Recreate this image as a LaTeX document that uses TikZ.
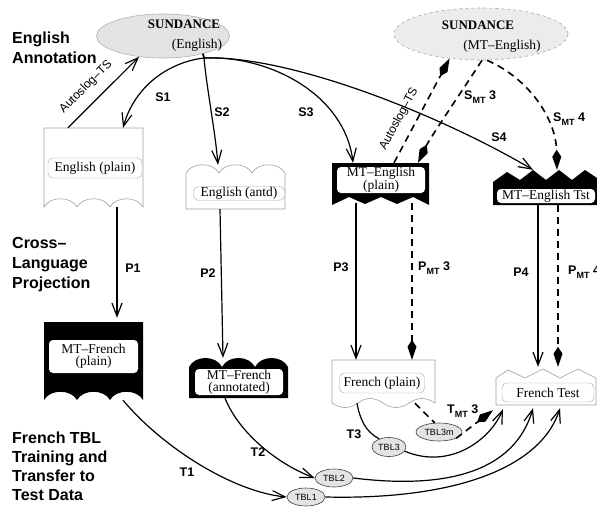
\documentclass[tikz,border=0pt]{standalone}
\usepackage{fontspec}
\setmainfont{Liberation Serif}
\setsansfont{Liberation Sans}
\usetikzlibrary{arrows.meta,shapes.geometric}
\newcommand\lsub[1]{\raisebox{-3.5pt}{\fontsize{9}{10}\selectfont #1}}
\begin{document}
\begin{tikzpicture}[x=1pt,y=-1pt,
  conn/.style={line width=1.2pt,-{Straight Barb[length=13pt,width=10pt,line width=1.2pt]}},
  plainconn/.style={line width=1.2pt},
  dconn/.style={line width=1.6pt,dash pattern=on 7pt off 5pt,-{Kite[length=20pt,width=9pt,inset=7pt]}},
  dplain/.style={line width=1.6pt,dash pattern=on 7pt off 5pt},
  docline/.style={draw=gray!75,line width=0.6pt},
  blackdoc/.style={fill=black},
  area/.style={draw=none,inner sep=0pt,rectangle},
  tl/.style={draw=gray!70,fill=white,rounded corners=5pt,inner sep=0pt,align=center,font=\fontsize{13.5}{12}\selectfont},
  wl/.style={fill=white,rounded corners=4pt,inner sep=0pt,align=center,font=\fontsize{13.5}{12}\selectfont},
  head/.style={font=\sffamily\bfseries\fontsize{16}{20}\selectfont,align=left,anchor=base west,inner sep=0pt},
  lab/.style={font=\sffamily\bfseries\fontsize{12.5}{14}\selectfont,inner sep=0pt},
  rlab/.style={font=\sffamily\fontsize{12}{14}\selectfont,inner sep=0pt},
  stext/.style={font=\fontsize{13.5}{15}\selectfont,inner sep=0pt},
  tbl/.style={ellipse,draw=black!75,fill=gray!22,line width=0.6pt,inner sep=0pt,font=\sffamily\fontsize{9}{10}\selectfont}
]
\useasboundingbox (0,0) rectangle (597,506);
\clip (0,0) rectangle (597,506);

% headings
\node[head] (h1) at (12,63) {English\\Annotation};
\node[head] (h2) at (12,288) {Cross--\\Language\\Projection};
\node[head,font=\sffamily\bfseries\fontsize{16}{19}\selectfont] (h3) at (12,500) {French TBL\\Training and\\Transfer to\\Test Data};

% SUNDANCE ellipses
\node[ellipse,draw=gray!60,fill=gray!22,line width=0.6pt,minimum width=133pt,minimum height=44pt,inner sep=0pt] (se) at (163,36) {};
\node[stext,font=\bfseries\fontsize{13}{15}\selectfont] (se1) at (184,24) {SUNDANCE};
\node[stext] (se2) at (197,45) {(English)};
\node[ellipse,draw=gray!70,fill=gray!15,dashed,line width=0.6pt,minimum width=174pt,minimum height=52pt,inner sep=0pt] (sm) at (481,34) {};
\node[stext,font=\bfseries\fontsize{13}{15}\selectfont] (sm1) at (478,25) {SUNDANCE};
\node[stext] (sm2) at (502,46) {(MT--English)};

% English (plain)
\path[docline,fill=white] (44,128) -- (143,128) -- (143,207)
  .. controls (137,196) and (116,196) .. (110,207)
  .. controls (104,196) and (83,196) .. (77,207)
  .. controls (71,196) and (50,196) .. (44,207) -- cycle;
\node[area,minimum width=99pt,minimum height=79pt] (ep) at (93.5,167.5) {};
\node[tl,minimum width=94pt,minimum height=20pt] (epl) at (95,168) {English (plain)};

% English (antd)
\path[docline,fill=white] (186,209) -- (186,173)
  .. controls (192,162) and (213,162) .. (219,173)
  .. controls (225,162) and (246,162) .. (252,173)
  .. controls (258,162) and (279,162) .. (285,173) -- (285,209) -- cycle;
\node[area,minimum width=99pt,minimum height=44pt] (ea) at (235.5,187) {};
\node[tl,minimum width=91pt,minimum height=14pt] (eal) at (239,193.5) {English (antd)};

% MT-English (plain)
\path[blackdoc] (332,163) -- (429,163) -- (429,205) -- (413,197) -- (397,204) -- (381,197) -- (365,204) -- (349,197) -- (332,205) -- cycle;
\node[area,minimum width=97pt,minimum height=40pt] (mep) at (380.5,183) {};
\node[wl,minimum width=88pt,minimum height=26pt] (mepl) at (381,180) {MT--English\\(plain)};

% MT-English Tst
\path[blackdoc] (493,182) -- (507,172) -- (520,180) -- (533,170) -- (546,180) -- (559,170) -- (572,180) -- (585,170) -- (597,178) -- (597,205) -- (493,205) -- cycle;
\node[area,minimum width=104pt,minimum height=35pt] (met) at (545,187.5) {};
\node[wl,minimum width=98pt,minimum height=14pt] (metl) at (546,196) {MT--English Tst};

% MT-French (plain)
\path[blackdoc] (44,322) -- (143,322) -- (143,400)
  .. controls (137,389) and (116,389) .. (110,400)
  .. controls (104,389) and (83,389) .. (77,400)
  .. controls (71,389) and (50,389) .. (44,400) -- cycle;
\node[area,minimum width=99pt,minimum height=78pt] (mfp) at (93.5,361) {};
\node[wl,minimum width=89pt,minimum height=33pt] (mfpl) at (93.5,356.5) {MT--French\\(plain)};

% MT-French (annotated)
\path[blackdoc] (189,398) -- (189,367)
  .. controls (195,355) and (216,355) .. (222,367)
  .. controls (228,355) and (249,355) .. (255,367)
  .. controls (261,355) and (282,355) .. (288,367) -- (288,398) -- cycle;
\node[area,minimum width=99pt,minimum height=40pt] (mfa) at (238.5,378) {};
\node[wl,minimum width=88pt,minimum height=26pt] (mfal) at (239,382) {MT--French\\(annotated)};

% French (plain)
\path[docline,fill=white] (332,360) -- (435,360) -- (435,403)
  .. controls (426,397) and (418,397) .. (409,403)
  .. controls (400,409) and (392,409) .. (383,403)
  .. controls (374,397) and (366,397) .. (358,403)
  .. controls (349,409) and (341,409) .. (332,403) -- cycle;
\node[area,minimum width=103pt,minimum height=43pt] (fp) at (383.5,381.5) {};
\node[tl,minimum width=85pt,minimum height=20pt] (fpl) at (382,383) {French (plain)};

% French Test
\path[docline,fill=white] (496,405) -- (496,378) -- (508,370) -- (525,378) -- (543,369) -- (560,378) -- (578,369) -- (596,378) -- (596,405) -- cycle;
\node[area,minimum width=100pt,minimum height=36pt] (ft) at (546,387) {};
\node[tl,minimum width=92pt,minimum height=19pt] (ftl) at (548,392.5) {French Test};

% TBL ellipses
\node[tbl,minimum width=38pt,minimum height=18pt] (tbl1) at (306,497) {TBL1};
\node[tbl,minimum width=38pt,minimum height=18pt] (tbl2) at (334,478) {TBL2};
\node[tbl,minimum width=34pt,minimum height=19pt] (tbl3) at (389,447) {TBL3};
\node[tbl,minimum width=46pt,minimum height=18pt] (tbl3m) at (439,432) {TBL3m};

% English annotation connectors
\draw[conn] ([xshift=-25.5pt]ep.north) -- (se.221);
\coordinate (sfan) at (204,58);
\draw[conn] (se.336) -- (sfan) .. controls (170,62) and (135,85) .. ([xshift=29.5pt]ep.north);
\draw[conn] (se.336) -- (sfan) .. controls (207,90) and (215,130) .. ([xshift=-17.5pt]ea.north);
\draw[conn] (se.336) -- (sfan) .. controls (270,55) and (345,95) .. ([xshift=-27.5pt]mep.north);
\draw[conn] (se.336) -- (sfan) .. controls (290,55) and (440,115) .. ([xshift=-12pt]met.north);
\draw[dconn] ([xshift=1pt]sm.south) .. controls (468,82) and (430,138) .. ([xshift=37.5pt]mep.north);
\draw[dconn] ([xshift=13.5pt]mep.north) -- (sm.218);
\draw[dconn] ([xshift=6pt]sm.south) .. controls (528,78) and (556,118) .. ([xshift=12pt]met.north);

% projection
\draw[conn] ([xshift=23.5pt]ep.south) -- ([xshift=23.5pt,yshift=4pt]mfp.north);
\draw[conn] ([xshift=-15.5pt]ea.south) -- ([xshift=-15.5pt]mfa.north);
\draw[conn] ([xshift=-24.5pt]mep.south) -- ([xshift=-27.5pt]fp.north);
\draw[dconn] ([xshift=31.5pt]mep.south) -- ([xshift=28.5pt]fp.north);
\draw[conn] ([xshift=-7pt]met.south) -- ([xshift=-8pt,yshift=2pt]ft.north);
\draw[dconn] ([xshift=13pt]met.south) -- ([xshift=12pt,yshift=2pt]ft.north);

% training and transfer
\draw[conn] ([xshift=29.5pt]mfp.south) .. controls (165,450) and (235,492) .. (tbl1.west);
\draw[conn] ([xshift=-13.5pt]mfa.south) .. controls (240,435) and (280,465) .. (tbl2.west);
\draw[plainconn] ([xshift=-26.5pt]fp.south) .. controls (360,420) and (366,432) .. (tbl3.140);
\draw[dplain] ([xshift=31.5pt]fp.south) -- (tbl3m.115);
\draw[conn] (tbl3.-15) .. controls (450,470) and (490,440) .. ([xshift=-43pt,yshift=-4pt]ft.south);
\draw[conn] (tbl2.east) .. controls (450,490) and (515,470) .. ([xshift=-13pt,yshift=-3pt]ft.south);
\draw[conn] (tbl1.east) .. controls (450,500) and (540,470) .. ([xshift=14pt,yshift=-3pt]ft.south);
\draw[dconn] (tbl3m.-20) -- ([xshift=-53pt,yshift=-5pt]ft.south);

% labels
\node[rlab,rotate=45] (la1) at (86,87) {Autoslog--TS};
\node[rlab,rotate=62] (la2) at (399,119) {Autoslog--TS};
\node[lab] (ls1) at (163,97) {S1};
\node[lab] (ls2) at (222,112) {S2};
\node[lab] (ls3) at (306,112) {S3};
\node[lab] (ls4) at (499,137) {S4};
\node[lab,anchor=west] (lsm3) at (464,97) {S\lsub{MT} 3};
\node[lab,anchor=west] (lsm4) at (553,119) {S\lsub{MT} 4};
\node[lab] (lp1) at (133,268) {P1};
\node[lab] (lp2) at (208,273) {P2};
\node[lab] (lp3) at (341,267) {P3};
\node[lab,anchor=west] (lpm3) at (418,268) {P\lsub{MT} 3};
\node[lab] (lp4) at (521,272) {P4};
\node[lab,anchor=west] (lpm4) at (568,272) {P\lsub{MT} 4};
\node[lab] (lt1) at (187,472) {T1};
\node[lab] (lt2) at (258,452) {T2};
\node[lab] (lt3) at (354,434) {T3};
\node[lab,anchor=west] (ltm3) at (447,411) {T\lsub{MT} 3};
\end{tikzpicture}
\end{document}
